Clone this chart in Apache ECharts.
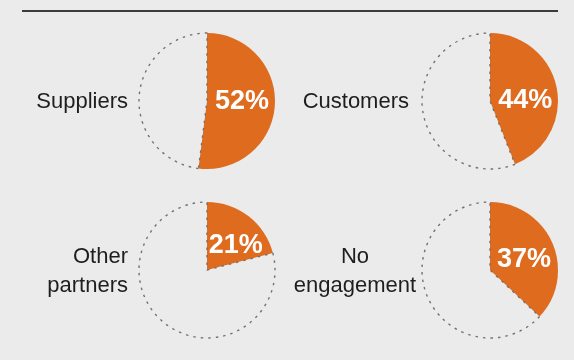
<!DOCTYPE html>
<html>
<head>
<meta charset="utf-8">
<script src="https://cdn.jsdelivr.net/npm/echarts@6/dist/echarts.min.js"></script>
<style>
  html, body { margin: 0; padding: 0; background: #ebebeb; }
  #chart { width: 574px; height: 360px; }
</style>
</head>
<body>
<div id="chart"></div>
<script>
// Share of respondents engaging with each group (percent)
const categories = ['Suppliers', 'Customers', 'Other\npartners', 'No\nengagement'];
const shares = [52, 44, 21, 37];

const ORANGE = '#df6b1f';
const FONT = '"Liberation Sans", Arial, Helvetica, sans-serif';

// Grid slots: pie centre, label anchor and alignment
const slots = [
  { center: [207, 101], labelX: 128, align: 'right' },
  { center: [490, 101], labelX: 409, align: 'right' },
  { center: [207, 270], labelX: 128, align: 'right' },
  { center: [490, 270], labelX: 355, align: 'center' }
];
// Small nudges so each value label sits comfortably inside its slice
const labelNudge = [[-2, -2], [-1, 6], [6, 5], [0, 4]];

const chart = echarts.init(document.getElementById('chart'), null, { renderer: 'canvas' });

const series = shares.map((v, i) => ({
  type: 'pie',
  center: slots[i].center,
  radius: [0, 68],
  startAngle: 90,
  clockwise: true,
  silent: true,
  animation: false,
  labelLine: { show: false },
  data: [
    {
      value: v,
      itemStyle: { color: ORANGE },
      label: {
        show: true,
        position: 'inside',
        formatter: '{c}%',
        color: '#ffffff',
        fontFamily: FONT,
        fontWeight: 'bold',
        fontSize: 27,
        offset: labelNudge[i]
      }
    },
    {
      value: 100 - v,
      itemStyle: {
        color: 'rgba(0,0,0,0)',
        borderColor: '#727272',
        borderWidth: 1.4,
        borderType: [2.5, 5]
      },
      label: { show: false }
    }
  ]
}));

const graphics = [
  {
    type: 'line',
    shape: { x1: 22, y1: 11, x2: 558, y2: 11 },
    style: { stroke: '#000', lineWidth: 1.6 }
  }
].concat(categories.map((name, i) => ({
  type: 'text',
  style: {
    text: name,
    x: slots[i].labelX,
    y: slots[i].center[1] + 1,
    align: slots[i].align,
    verticalAlign: 'middle',
    font: '22px ' + FONT,
    lineHeight: 29,
    fill: '#1e1e1e'
  }
})));

chart.setOption({
  backgroundColor: '#ebebeb',
  series: series,
  graphic: graphics
});
</script>
</body>
</html>
